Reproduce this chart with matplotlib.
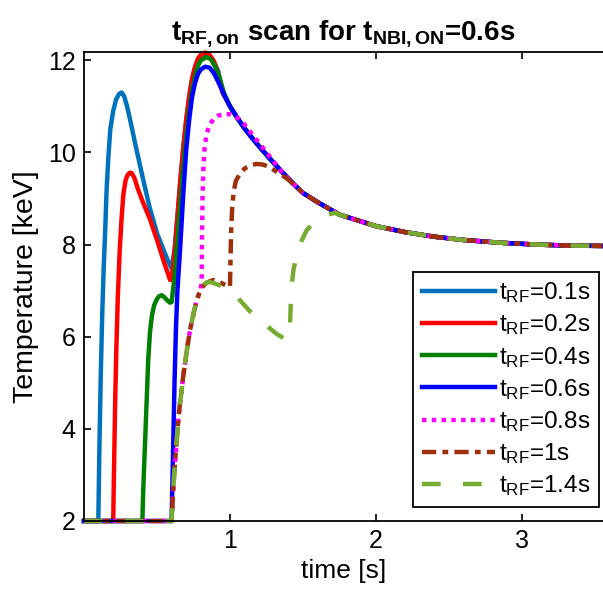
import matplotlib
matplotlib.use("Agg")
import matplotlib.pyplot as plt

plt.rcParams['font.family'] = ['Liberation Sans', 'DejaVu Sans']
plt.rcParams['mathtext.fontset'] = 'custom'
plt.rcParams['mathtext.rm'] = 'Liberation Sans'
plt.rcParams['mathtext.it'] = 'Liberation Sans'
plt.rcParams['mathtext.bf'] = 'Liberation Sans:bold'

# shared decay tail (all curves merge)
tail_t = [1.5, 1.6, 1.75, 1.9, 2.0, 2.2, 2.4, 2.6, 2.85, 3.1, 3.3, 3.55]
tail_T = [9.12, 8.92, 8.65, 8.5, 8.4, 8.27, 8.17, 8.1, 8.04, 8.0, 7.98, 7.97]

# main peak descent (shared 1.0 - 1.45)
desc_t = [1.0, 1.05, 1.1, 1.15, 1.2, 1.25, 1.3, 1.35, 1.4, 1.45]
desc_T = [11.0, 10.75, 10.52, 10.32, 10.13, 9.95, 9.77, 9.6, 9.43, 9.27]

# t_RF = 0.1 s
t01 = [0.0, 0.098, 0.105, 0.115, 0.125, 0.135, 0.145, 0.155, 0.167, 0.18, 0.2, 0.22, 0.24, 0.258,
       0.275, 0.295, 0.32, 0.35, 0.406, 0.45, 0.5, 0.543, 0.575, 0.6,
       0.62, 0.64, 0.66, 0.68, 0.7, 0.72, 0.74, 0.76, 0.78, 0.8, 0.83, 0.86, 0.89, 0.92, 0.95]
T01 = [2.0, 2.0, 3.5, 5.2, 6.5, 7.5, 8.3, 9.2, 9.9, 10.5, 10.9, 11.15, 11.27, 11.3,
       11.22, 11.0, 10.65, 10.2, 9.4, 8.8, 8.25, 7.9, 7.65, 7.48,
       7.9, 8.6, 9.4, 10.1, 10.7, 11.2, 11.58, 11.84, 12.02, 12.1, 12.15, 12.1, 11.96, 11.76, 11.3]

# t_RF = 0.2 s
t02 = [0.0, 0.2, 0.205, 0.213, 0.222, 0.232, 0.245, 0.258, 0.27, 0.285, 0.3, 0.315, 0.327, 0.345,
       0.37, 0.4, 0.452, 0.5, 0.55, 0.59,
       0.6, 0.62, 0.64, 0.66, 0.68, 0.7, 0.72, 0.74, 0.76, 0.78, 0.8, 0.83, 0.86, 0.89, 0.92, 0.95]
T02 = [2.0, 2.0, 3.0, 4.5, 5.8, 6.9, 7.9, 8.6, 9.1, 9.4, 9.52, 9.56, 9.55, 9.45,
       9.2, 8.95, 8.55, 8.1, 7.6, 7.23,
       7.25, 7.8, 8.6, 9.4, 10.1, 10.7, 11.2, 11.6, 11.85, 12.03, 12.12, 12.17, 12.12, 11.98, 11.7, 11.3]

# t_RF = 0.4 s
t04 = [0.0, 0.4, 0.405, 0.412, 0.425, 0.44, 0.452, 0.465, 0.48, 0.5, 0.515, 0.532, 0.55, 0.57, 0.589, 0.6,
       0.62, 0.64, 0.66, 0.68, 0.7, 0.72, 0.74, 0.76, 0.78, 0.8, 0.84, 0.87, 0.9, 0.93, 0.96]
T04 = [2.0, 2.0, 2.6, 3.2, 4.26, 5.5, 6.1, 6.45, 6.68, 6.82, 6.88, 6.9, 6.86, 6.79, 6.74, 6.75,
       7.3, 8.1, 8.9, 9.7, 10.35, 10.9, 11.35, 11.65, 11.88, 12.0, 12.07, 12.02, 11.85, 11.6, 11.28]

# t_RF = 0.6 s
t06 = [0.0, 0.6, 0.61, 0.62, 0.63, 0.64, 0.65, 0.66, 0.68, 0.7, 0.72, 0.74, 0.76, 0.78, 0.8, 0.83,
       0.86, 0.89, 0.92, 0.96]
T06 = [2.0, 2.0, 3.5, 5.0, 6.2, 7.0, 7.5, 8.0, 9.1, 10.05, 10.7, 11.2, 11.5, 11.7, 11.8, 11.86,
       11.84, 11.72, 11.53, 11.25]

# shared RF-off rise after NBI turn-on
rise_t = [0.6, 0.605, 0.612, 0.623, 0.635, 0.646, 0.657, 0.669, 0.68, 0.692, 0.71, 0.726, 0.75, 0.772, 0.79]
rise_T = [2.0, 2.3, 2.75, 3.25, 3.75, 4.19, 4.55, 4.84, 5.15, 5.42, 5.82, 6.14, 6.5, 6.79, 6.95]

# t_RF = 0.8 s
t08 = [0.8, 0.806, 0.808, 0.812, 0.818, 0.826, 0.84, 0.86, 0.886, 0.92, 0.96, 1.0, 1.04, 1.08,
       1.114, 1.15, 1.2, 1.25, 1.3]
T08 = [7.03, 7.23, 8.0, 9.0, 9.7, 10.1, 10.41, 10.6, 10.72, 10.8, 10.83, 10.83, 10.78, 10.68,
       10.55, 10.4, 10.2, 10.0, 9.8]

# t_RF = 1 s
t1 = [0.806, 0.825, 0.84, 0.86, 0.886, 0.915, 0.943, 0.97, 1.0, 1.003, 1.008, 1.015, 1.025, 1.04,
      1.068, 1.1, 1.14, 1.18, 1.22, 1.26, 1.3, 1.35, 1.4]
T1 = [7.05, 7.13, 7.17, 7.2, 7.23, 7.2, 7.16, 7.12, 7.08, 7.6, 8.3, 8.8, 9.15, 9.38,
      9.54, 9.65, 9.72, 9.75, 9.74, 9.7, 9.62, 9.52, 9.41]

# t_RF = 1.4 s
t14 = [0.806, 0.825, 0.84, 0.86, 0.9, 0.94, 0.977, 1.02, 1.057, 1.1, 1.16, 1.21, 1.262, 1.32,
       1.388, 1.4, 1.41, 1.415, 1.42, 1.435, 1.456, 1.49, 1.525, 1.57, 1.616, 1.66, 1.72]
T14 = [7.05, 7.13, 7.18, 7.19, 7.15, 7.1, 7.05, 6.95, 6.83, 6.68, 6.47, 6.33, 6.21, 6.06,
       5.93, 5.98, 6.14, 6.6, 7.05, 7.45, 7.77, 8.08, 8.31, 8.47, 8.57, 8.64, 8.69]

labels = ['t$_{\\rm RF}$=0.1s', 't$_{\\rm RF}$=0.2s', 't$_{\\rm RF}$=0.4s', 't$_{\\rm RF}$=0.6s',
          't$_{\\rm RF}$=0.8s', 't$_{\\rm RF}$=1s', 't$_{\\rm RF}$=1.4s']
colors = ['#0072BD', '#FF0000', '#008000', '#0000FF', '#FF00FF', '#A0300A', '#77AC30']


def build(head_t, head_T, own_t, own_T, use_rise=False, use_desc=True):
    x = list(head_t)
    y = list(head_T)
    if use_rise:
        x += rise_t
        y += rise_T
    x += list(own_t)
    y += list(own_T)
    if use_desc:
        for a, b in zip(desc_t, desc_T):
            if a > x[-1]:
                x.append(a)
                y.append(b)
    for a, b in zip(tail_t, tail_T):
        if a > x[-1]:
            x.append(a)
            y.append(b)
    return x, y


curves = [
    build([], [], t01, T01),
    build([], [], t02, T02),
    build([], [], t04, T04),
    build([], [], t06, T06),
    build([0.0], [2.0], t08, T08, use_rise=True),
    build([0.0], [2.0], t1, T1, use_rise=True),
    build([0.0], [2.0], t14, T14, use_rise=True),
]
styles = ['-', '-', '-', '-', ':', '-.', '--']

fig = plt.figure(figsize=(6.03, 5.90), dpi=100)
ax = fig.add_axes([84 / 603, 1 - 521 / 590, 1 - 84 / 603, (521 - 52) / 590])

for (x, y), lab, col, ls in zip(curves, labels, colors, styles):
    line, = ax.plot(x, y, color=col, linestyle=ls, lw=3.2, label=lab, clip_on=False,
                    solid_joinstyle='round', dash_joinstyle='round')
    if ls == ':':
        line.set_dashes([1.0, 1.2])
    elif ls == '-.':
        line.set_dashes([3.2, 1.4, 1.3, 1.4])
    elif ls == '--':
        line.set_dashes([4.2, 5.0])

ax.set_xlim(0, 3.555)
ax.set_ylim(2, 12.18)
ax.set_xticks([1, 2, 3])
ax.set_yticks([2, 4, 6, 8, 10, 12])
ax.tick_params(direction='in', top=True, right=False, labelsize=18, length=5, width=1.2, pad=6)
for s in ['left', 'bottom', 'top']:
    ax.spines[s].set_linewidth(1.3)
ax.spines['right'].set_visible(False)

ax.set_xlabel('time [s]', fontsize=19, labelpad=4)
ax.set_ylabel('Temperature [keV]', fontsize=20.5, labelpad=6)
ax.set_title('$\\mathbf{t_{RF,on}}$ scan for $\\mathbf{t_{NBI,ON}}$=0.6s', fontsize=20,
             fontweight='bold', pad=9)

leg = ax.legend(loc='lower right', bbox_to_anchor=(0.993, 0.03), fontsize=17.5,
                handlelength=3.0, handletextpad=0.2, labelspacing=0.3,
                borderpad=0.35, borderaxespad=0, fancybox=False, framealpha=1)
leg.get_frame().set_edgecolor('black')
leg.get_frame().set_linewidth(1.3)

fig.savefig('out.png', dpi=100)
